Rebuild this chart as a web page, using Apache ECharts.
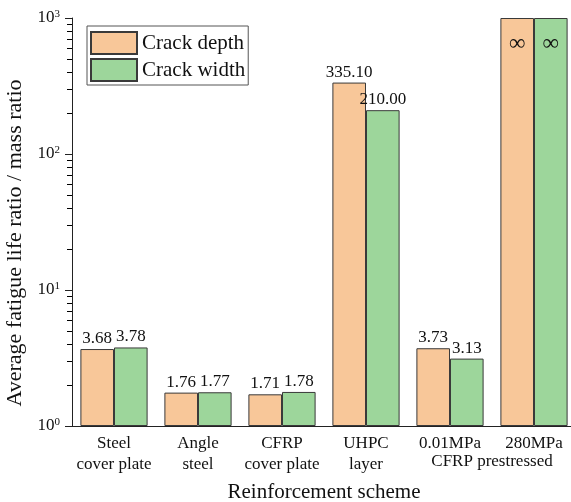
<!DOCTYPE html>
<html><head><meta charset="utf-8">
<script src="https://cdn.jsdelivr.net/npm/echarts@6/dist/echarts.min.js"></script>
<style>html,body{margin:0;padding:0;background:#fff}#c{width:571px;height:502px}</style>
</head><body><div id="c"></div>
<script>
const categories = ['Steel\ncover plate', 'Angle\nsteel', 'CFRP\ncover plate', 'UHPC\nlayer', '0.01MPa', '280MPa'];
const groupLabel = 'CFRP prestressed';
const crackDepth = [3.68, 1.76, 1.71, 335.10, 3.73, Infinity];
const crackWidth = [3.78, 1.77, 1.78, 210.00, 3.13, Infinity];
const yMin = 1, yMax = 1000;
const minorTicks = [2,3,4,5,6,7,8,9,20,30,40,50,60,70,80,90,200,300,400,500,600,700,800,900];
const seriesNames = ['Crack depth', 'Crack width'];

const FONT = '"Liberation Serif", "Times New Roman", serif';
const colors = ['#F8C799', '#9DD69B'];

function labelFmt(p){
  return p.data && p.data.infinite ? '∞' : Number(p.value).toFixed(2);
}
function mkSeries(name, arr, color){
  const d = arr.map(v => isFinite(v) ? {value: v} : {value: yMax, infinite: true,
    label: {position: 'insideTop', distance: 14, fontSize: 23}});
  return {
    name, type: 'bar', data: d, barGap: '0%', barCategoryGap: '20%',
    itemStyle: {color, borderColor: '#3a3a3a', borderWidth: 1},
    label: {show: true, position: 'top', distance: 2, color: '#111', fontFamily: FONT, fontSize: 17,
      formatter: labelFmt}
  };
}

const GRID_LEFT = 72;
const chart = echarts.init(document.getElementById('c'));
const option = {
  animation: false,
  textStyle: {fontFamily: FONT},
  grid: {left: GRID_LEFT, top: 18, width: 504, bottom: 76, containLabel: false, outerBoundsMode: 'none'},
  legend: {
    orient: 'vertical', left: 87, top: 26, padding: [5, 3, 3, 3], itemGap: 3, icon: 'rect',
    itemWidth: 46, itemHeight: 22, borderColor: '#555', borderWidth: 1, backgroundColor: '#fff',
    textStyle: {fontFamily: FONT, fontSize: 21, color: '#111'},
    data: seriesNames
  },
  xAxis: [{
    type: 'category', data: categories,
    axisLine: {lineStyle: {color: '#222', width: 1}},
    axisTick: {alignWithLabel: true, length: 5, lineStyle: {color: '#222'}},
    axisLabel: {color: '#111', fontFamily: FONT, fontSize: 17, lineHeight: 21, margin: 7, interval: 0},
    name: 'Reinforcement scheme', nameLocation: 'middle', nameGap: 56,
    nameTextStyle: {fontFamily: FONT, fontSize: 21, color: '#111'}
  }, {
    type: 'category', data: categories, position: 'bottom',
    axisLine: {show: false}, axisLabel: {show: false},
    axisTick: {length: 3, lineStyle: {color: '#222'}}
  }],
  yAxis: [{
    type: 'log', logBase: 10, min: yMin, max: yMax,
    splitLine: {show: false},
    axisLine: {show: true, lineStyle: {color: '#222'}},
    axisTick: {show: true, length: 7, lineStyle: {color: '#222'}},
    axisLabel: {
      margin: 12,
      formatter: v => '{b|10}{s|' + Math.round(Math.log10(v)) + '}',
      rich: {
        b: {fontFamily: FONT, fontSize: 17, color: '#111'},
        s: {fontFamily: FONT, fontSize: 11, color: '#111', verticalAlign: 'top', padding: [0, 0, 8, 0]}
      }
    },
    name: 'Average fatigue life ratio / mass ratio', nameLocation: 'middle', nameGap: 44,
    nameTextStyle: {fontFamily: FONT, fontSize: 22, color: '#111', padding: [0, 42, 0, 0]}
  }],
  series: [mkSeries(seriesNames[0], crackDepth, colors[0]), mkSeries(seriesNames[1], crackWidth, colors[1])]
};
chart.setOption(option);

const p4 = chart.convertToPixel({xAxisIndex: 0}, categories[4]);
const p5 = chart.convertToPixel({xAxisIndex: 0}, categories[5]);
const yb = chart.convertToPixel({yAxisIndex: 0}, yMin);
const graphics = [{type: 'text', x: (p4 + p5) / 2, y: yb + 36,
  style: {text: groupLabel, fontFamily: FONT, fontSize: 17, fill: '#111', align: 'center', verticalAlign: 'middle'}}];
// minor ticks of the log axis, positioned through the axis scale
minorTicks.forEach(v => {
  const y = Math.round(chart.convertToPixel({yAxisIndex: 0}, v)) + 0.5;
  graphics.push({type: 'line', silent: true, z: 100,
    shape: {x1: GRID_LEFT - 5, y1: y, x2: GRID_LEFT, y2: y},
    style: {stroke: '#000', lineWidth: 1}});
});
chart.setOption({graphic: graphics});
</script></body></html>
